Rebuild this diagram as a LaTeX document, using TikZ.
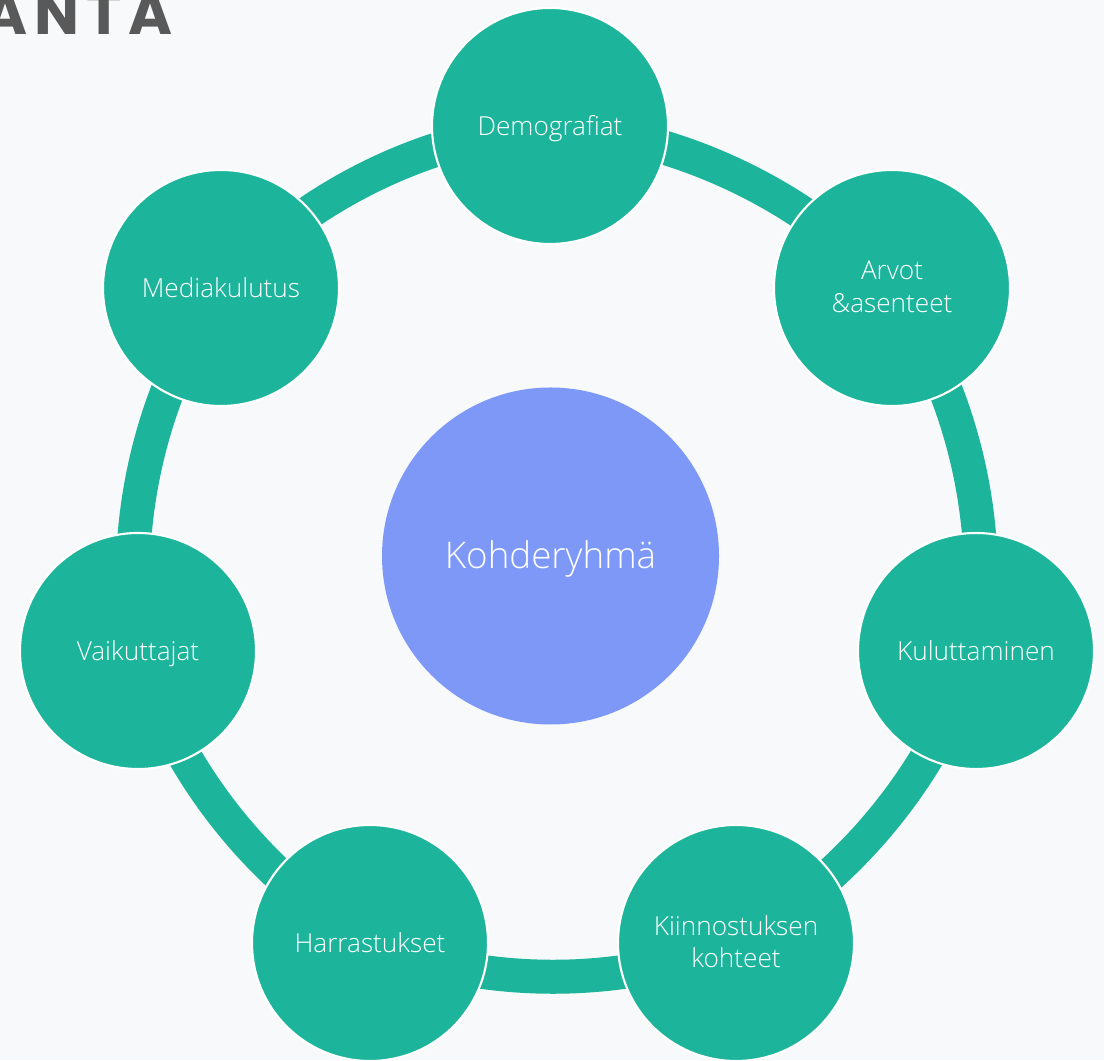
\documentclass[tikz,border=0pt]{standalone}
\usepackage{fontspec}
\setmainfont{Open Sans Light}
\newfontfamily\logofont[LetterSpace=12]{Poppins}
\usetikzlibrary{backgrounds}
\definecolor{pagebg}{HTML}{F7F9FB}
\definecolor{tealfill}{HTML}{1CB59C}
\definecolor{bluefill}{HTML}{7D98F6}
\definecolor{logogray}{HTML}{595959}

\begin{document}
\begin{tikzpicture}[-,thick,bend angle=21,looseness=0.88,
    main node/.style={circle,draw=white,line width=0.6pt,fill=tealfill,text=white,inner sep=0pt,minimum size=2.36cm,align=center,font=\fontsize{7.45}{9.2}\selectfont},
    one line/.style={main node,execute at begin node={\rule[-2.7pt]{0pt}{11pt}}},
    two line/.style={main node,execute at begin node={\rule[-0.7pt]{0pt}{1pt}}},
    hub node/.style={circle,fill=bluefill,text=white,inner sep=0pt,minimum size=3.37cm,font=\fontsize{10.45}{12}\selectfont,execute at begin node={\rule[-2.5pt]{0pt}{12pt}}},
    ring edge/.style={draw=tealfill,line width=0.34cm}]

    \useasboundingbox (0,0) rectangle (11.04,10.6);
    \clip (0,0) rectangle (11.04,10.6);

    \node[text=logogray,font=\logofont\bfseries\fontsize{17}{15}\selectfont,anchor=base east] (logo) at (1.86,10.25) {ANTA};

    \node[hub node] (0) at (5.505,5.04) {Kohderyhmä};

    \node[one line] (1) at (5.5,9.34) {Demografiat};
    \node[two line] (2) at (8.92,7.72) {Arvot\\\&asenteet};
    \node[one line] (3) at (9.76,4.09) {Kuluttaminen};
    \node[two line] (4) at (7.36,1.17) {Kiinnostuksen\\kohteet};
    \node[one line] (5) at (3.70,1.17) {Harrastukset};
    \node[one line] (6) at (1.38,4.09) {Vaikuttajat};
    \node[one line] (7) at (2.21,7.72) {Mediakulutus};

    \begin{scope}[on background layer]
        \fill[pagebg] (0,0) rectangle (11.04,10.6);
        \draw[ring edge] (1.center) to[bend left] (2.center);
        \draw[ring edge] (2.center) to[bend left] (3.center);
        \draw[ring edge] (3.center) to[bend left] (4.center);
        \draw[ring edge] (4.center) to[bend left] (5.center);
        \draw[ring edge] (5.center) to[bend left] (6.center);
        \draw[ring edge] (6.center) to[bend left] (7.center);
        \draw[ring edge] (7.center) to[bend left] (1.center);
    \end{scope}
\end{tikzpicture}
\end{document}
